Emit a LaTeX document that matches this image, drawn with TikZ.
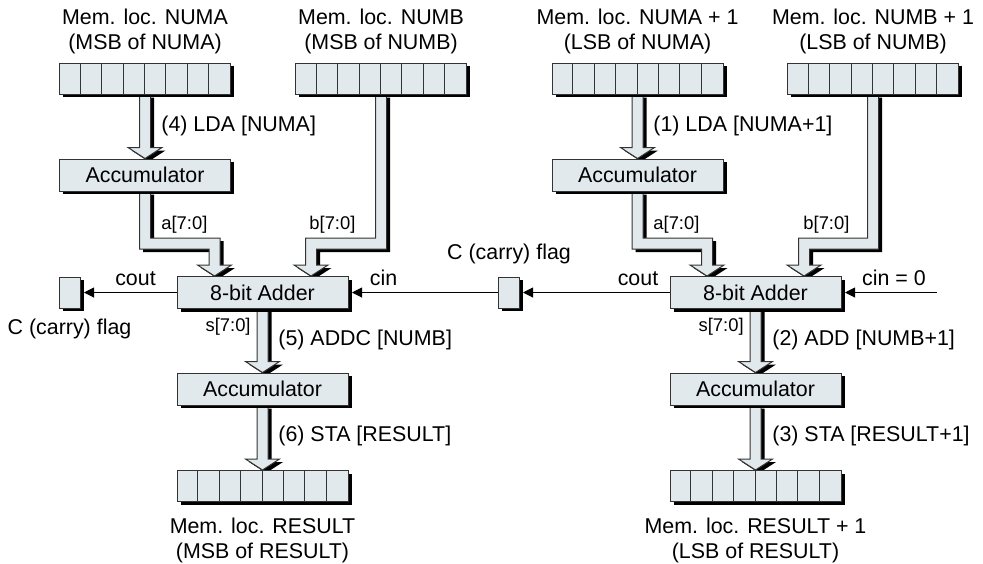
\documentclass[tikz,border=0pt]{standalone}
\usepackage{fontspec}
\setmainfont{Liberation Sans}
\usepackage{tikz}
\usetikzlibrary{positioning}
\usetikzlibrary{calc}
\usetikzlibrary{shadows}
\usetikzlibrary{backgrounds}
\usetikzlibrary{arrows.meta}

\definecolor{regfill}{RGB}{226,233,237}

\tikzset{
  regbox/.style={draw=black!80, fill=regfill, line width=0.5pt, inner sep=0pt,
    minimum width=85.5pt, minimum height=15.5pt,
    drop shadow={shadow xshift=1.75pt, shadow yshift=-1.6pt, fill=black, opacity=1}},
  unit/.style={regbox, minimum height=16pt},
  flagbox/.style={regbox, minimum width=10.5pt},
  cell/.style={draw=black!80, line width=0.5pt},
  bus/.style={fill=regfill, draw=black!80, line width=0.5pt},
  busshadow/.style={fill=black, transform canvas={shift={(1.75pt,-1.5pt)}}},
  wire/.style={draw, line width=0.5pt, -{Triangle[length=5pt,width=5pt]}},
  lbl/.style={inner sep=0pt},
  buslbl/.style={inner sep=0pt, font=\fontsize{9.2}{11}\selectfont},
  memlbl/.style={inner sep=0pt, align=center}
}

% straight bus: from #1 down to #2
\newcommand{\busv}[2]{%
  \foreach \sty in {busshadow,bus} {
    \path[\sty] let \p1=(#1), \p2=(#2) in
      ({\x1-2.75pt},\y1) -- ({\x1-2.75pt},{\y2+5.5pt}) -- ({\x1-8.5pt},{\y2+5.5pt})
      -- (\x1,\y2) -- ({\x1+8.5pt},{\y2+5.5pt}) -- ({\x1+2.75pt},{\y2+5.5pt})
      -- ({\x1+2.75pt},\y1) -- cycle;
  }}

% bent bus: from #1 down to the level of #3, across, down to #2
\newcommand{\busb}[3]{%
  \foreach \sty in {busshadow,bus} {
    \path[\sty] let \p1=(#1), \p2=(#2), \p3=(#3),
        \n1={2.75*sign(\x2-\x1)}, \n2={8.5*sign(\x2-\x1)} in
      ({\x1-(\n1)},\y1) -- ({\x1-(\n1)},{\y3-2.75pt}) -- ({\x2-(\n1)},{\y3-2.75pt})
      -- ({\x2-(\n1)},{\y2+5.5pt}) -- ({\x2-(\n2)},{\y2+5.5pt}) -- (\x2,\y2)
      -- ({\x2+(\n2)},{\y2+5.5pt}) -- ({\x2+(\n1)},{\y2+5.5pt})
      -- ({\x2+(\n1)},{\y3+2.75pt}) -- ({\x1+(\n1)},{\y3+2.75pt})
      -- ({\x1+(\n1)},\y1) -- cycle;
  }}

\begin{document}
\begin{tikzpicture}[x=0.5pt,y=-0.5pt,font=\fontsize{10.7}{12.5}\selectfont]

  \useasboundingbox (0,0) rectangle (983,563);

  % memory locations
  \foreach \r/\x/\y in {numa/145/78.5, numb/381/78.5, numa1/637.5/78.5,
                        numb1/873/78.5, resl/262.5/486, resr/755.5/486} {
    \node[regbox] (\r) at (\x,\y) {};
    \foreach \k in {1,...,7}
      \draw[cell] ([xshift=\k*10.6875pt]\r.south west) -- ([xshift=\k*10.6875pt]\r.north west);
  }

  \node[memlbl, above=4.25pt of numa]  (numatxt)  {Mem. loc. NUMA\\(MSB of NUMA)};
  \node[memlbl, above=4.25pt of numb]  (numbtxt)  {Mem. loc. NUMB\\(MSB of NUMB)};
  \node[memlbl, above=4.25pt of numa1] (numa1txt) {Mem. loc. NUMA + 1\\(LSB of NUMA)};
  \node[memlbl, above=4.25pt of numb1] (numb1txt) {Mem. loc. NUMB + 1\\(LSB of NUMB)};
  \node[memlbl, below=8pt of resl]     (resltxt)  {Mem. loc. RESULT\\(MSB of RESULT)};
  \node[memlbl, below=8pt of resr]     (resrtxt)  {Mem. loc. RESULT + 1\\(LSB of RESULT)};

  \node[unit] (accl1) at (145,175)     {Accumulator};
  \node[unit] (addl)  at (262.5,292.5) {8-bit Adder};
  \node[unit] (accl2) at (262.5,389)   {Accumulator};

  \node[unit] (accr1) at (637.5,175)   {Accumulator};
  \node[unit] (addr)  at (755.5,292.5) {8-bit Adder};
  \node[unit] (accr2) at (755.5,389)   {Accumulator};

  \node[flagbox] (flagl) at (69.5,292.5)  {};
  \node[flagbox] (flagm) at (508.5,292.5) {};

  \coordinate (ainl)  at ([xshift=19pt]addl.north west);
  \coordinate (binl)  at ([xshift=67.25pt]addl.north west);
  \coordinate (bendl) at ([yshift=16.25pt]addl.north);
  \coordinate (ainr)  at ([xshift=18.75pt]addr.north west);
  \coordinate (binr)  at ([xshift=67.25pt]addr.north west);
  \coordinate (bendr) at ([yshift=16.25pt]addr.north);
  \coordinate (cin0)  at (937,292.5);

  \begin{scope}[on background layer]
    \busv{numa.south}{accl1.north}
    \busb{accl1.south}{ainl}{bendl}
    \busb{numb.south}{binl}{bendl}
    \busv{addl.south}{accl2.north}
    \busv{accl2.south}{resl.north}

    \busv{numa1.south}{accr1.north}
    \busb{accr1.south}{ainr}{bendr}
    \busb{numb1.south}{binr}{bendr}
    \busv{addr.south}{accr2.north}
    \busv{accr2.south}{resr.north}
  \end{scope}

  \draw[wire] (addl.west)  -- ([xshift=1.75pt]flagl.east);
  \draw[wire] (flagm.west) -- ([xshift=1.75pt]addl.east);
  \draw[wire] (addr.west)  -- ([xshift=1.75pt]flagm.east);
  \draw[wire] (cin0)       -- ([xshift=1.75pt]addr.east);

  \node[lbl, anchor=base] (coutl) at (135.5,285) {cout};
  \node[lbl, anchor=base] (cinl)  at (383.5,285) {cin};
  \node[lbl, anchor=base] (coutr) at (638,285)   {cout};
  \node[lbl, anchor=base] (cinr)  at (894,285)   {cin = 0};

  \node[lbl, anchor=base] (flagltxt) at (69.5,334) {C (carry) flag};
  \node[lbl, anchor=base] (flagmtxt) at (509,259)  {C (carry) flag};

  \node[buslbl, anchor=west] (al) at (161,225) {a[7:0]};
  \node[buslbl, anchor=west] (bl) at (309,225) {b[7:0]};
  \node[buslbl, anchor=west] (ar) at (653,225) {a[7:0]};
  \node[buslbl, anchor=west] (br) at (803,225) {b[7:0]};
  \node[buslbl, anchor=east] (sl) at (251,327) {s[7:0]};
  \node[buslbl, anchor=east] (sr) at (744,327) {s[7:0]};

  \node[lbl, anchor=west] (step4) at (161,126) {(4) LDA [NUMA]};
  \node[lbl, anchor=west] (step5) at (278,340) {(5) ADDC [NUMB]};
  \node[lbl, anchor=west] (step6) at (278,436) {(6) STA [RESULT]};
  \node[lbl, anchor=west] (step1) at (653,126) {(1) LDA [NUMA+1]};
  \node[lbl, anchor=west] (step2) at (772,340) {(2) ADD [NUMB+1]};
  \node[lbl, anchor=west] (step3) at (772,436) {(3) STA [RESULT+1]};

\end{tikzpicture}
\end{document}
